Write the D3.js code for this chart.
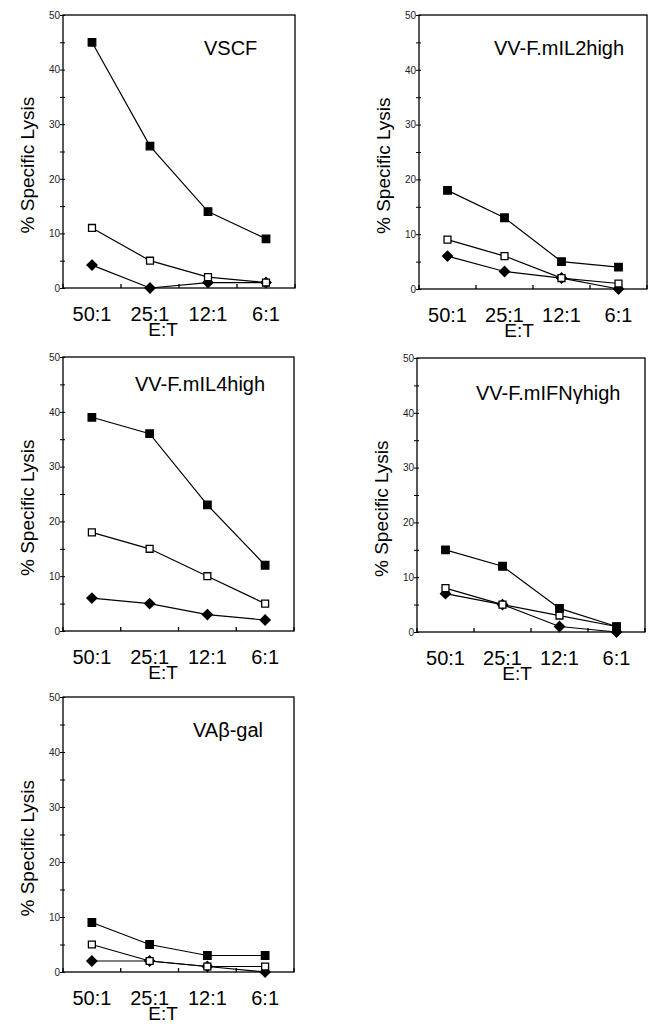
<!DOCTYPE html>
<html>
<head>
<meta charset="utf-8">
<script src="https://d3js.org/d3.v7.min.js"></script>
<style>
  body { margin: 0; background: #fff; }
  svg text { font-family: "Liberation Sans", Arial, sans-serif; fill: #000; }
</style>
</head>
<body>
<div id="graph-area"></div>
<script>

  // E:T ratios on the x axis
  const ratios = ["50:1", "25:1", "12:1", "6:1"];
  const yTicks = [0, 10, 20, 30, 40, 50];

  const titles = ["VSCF", "VV-F.mIL2high", "VV-F.mIL4high", "VV-F.mIFN\u03B3high", "VA\u03B2-gal"];

  // % specific lysis, one array per panel and marker
  const filledSq = [
    [45, 26, 14, 9],
    [18, 13, 5, 4],
    [39, 36, 23, 12],
    [15, 12, 4.3, 1],
    [9, 5, 3, 3]
  ];
  const openSq = [
    [11, 5, 2, 1],
    [9, 6, 2, 1],
    [18, 15, 10, 5],
    [8, 5, 3, 1],
    [5, 2, 1, 1]
  ];
  const diamond = [
    [4.2, 0, 1, 1],
    [6, 3.2, 2, 0],
    [6, 5, 3, 2],
    [7, 5, 1, 0],
    [2, 2, 1, 0]
  ];

  // panel frames: left, top, right, bottom (pixel layout) + title offset
  const frames = [
    {l: 63, t: 15, r: 295, b: 288, tx: 141, ty: 40},
    {l: 419, t: 15, r: 647, b: 289, tx: 75, ty: 40},
    {l: 63, t: 357, r: 294, b: 631, tx: 72, ty: 34},
    {l: 417, t: 358, r: 645, b: 632, tx: 59, ty: 42},
    {l: 63, t: 697, r: 294, b: 972, tx: 130, ty: 40}
  ];

  const w = 653, h = 1024;

  const svg = d3.select("#graph-area").append("svg")
    .attr("width", w)
    .attr("height", h);

  // rhombus marker, same width and height
  const rhombus = {
    draw(ctx, size) {
      const r = Math.sqrt(size / 2);
      ctx.moveTo(0, -r);
      ctx.lineTo(r, 0);
      ctx.lineTo(0, r);
      ctx.lineTo(-r, 0);
      ctx.closePath();
    }
  };

  function drawPanel(i) {
    const f = frames[i];
    const g = svg.append("g");

    const xScale = d3.scaleBand()
      .domain(ratios)
      .range([f.l, f.r]);

    const yScale = d3.scaleLinear()
      .domain([0, 50])
      .range([f.b, f.t]);

    // frame
    g.append("rect")
      .attr("x", f.l).attr("y", f.t)
      .attr("width", f.r - f.l).attr("height", f.b - f.t)
      .attr("fill", "none").attr("stroke", "#000").attr("stroke-width", 1.3);

    // y axis
    const yAxis = d3.axisLeft(yScale)
      .tickValues(d3.range(0, 51, 5))
      .tickSize(3)
      .tickFormat(d => yTicks.includes(d) ? d : "");
    const ya = g.append("g")
      .attr("transform", "translate(" + f.l + ",0)")
      .call(yAxis);
    ya.select(".domain").remove();
    ya.selectAll(".tick line").attr("x1", -3).attr("x2", 2).attr("stroke-width", 1);
    ya.selectAll(".tick text")
      .attr("x", -3)
      .style("font-size", "10px")
      .style("fill", "#222");

    // x axis: ticks at band edges, pointing inward
    const edges = ratios.map(r => xScale(r)).concat([f.r]);
    g.selectAll(".xtick")
      .data(edges)
      .enter().append("line")
      .attr("x1", d => d).attr("x2", d => d)
      .attr("y1", f.b).attr("y2", f.b - 4)
      .attr("stroke", "#000").attr("stroke-width", 1.3);

    g.selectAll(".xlab")
      .data(ratios)
      .enter().append("text")
      .attr("x", d => xScale(d) + xScale.bandwidth() / 2)
      .attr("y", f.b + 33)
      .attr("text-anchor", "middle")
      .style("font-size", "20px")
      .text(d => d);

    g.append("text")
      .attr("x", f.l + 100)
      .attr("y", Math.min(f.b + 48, h - 4))
      .attr("text-anchor", "middle")
      .style("font-size", "19px")
      .text("E:T");

    // y axis title
    g.append("text")
      .attr("transform", "translate(" + (f.l - 29) + "," + (f.t + (f.b - f.t) * 0.55) + ") rotate(-90)")
      .attr("text-anchor", "middle")
      .style("font-size", "19px")
      .text("% Specific Lysis");

    // panel title
    g.append("text")
      .attr("x", f.l + f.tx)
      .attr("y", f.t + f.ty)
      .style("font-size", "20px")
      .text(titles[i]);

    const cx = j => xScale(ratios[j]) + xScale.bandwidth() / 2;

    const line = d3.line()
      .x((d, j) => cx(j))
      .y(d => yScale(d));

    const series = [
      {vals: diamond[i], sym: rhombus, size: 50, fill: "#000"},
      {vals: openSq[i], sym: d3.symbolSquare, size: 48, fill: "#fff"},
      {vals: filledSq[i], sym: d3.symbolSquare, size: 56, fill: "#000"}
    ];

    series.forEach(s => {
      g.append("path")
        .datum(s.vals)
        .attr("fill", "none")
        .attr("stroke", "#000")
        .attr("stroke-width", 1.2)
        .attr("d", line);
    });

    series.forEach(s => {
      g.selectAll(null)
        .data(s.vals)
        .enter().append("path")
        .attr("transform", (d, j) => "translate(" + cx(j) + "," + yScale(d) + ")")
        .attr("d", d3.symbol().type(s.sym).size(s.size))
        .attr("fill", s.fill)
        .attr("stroke", "#000")
        .attr("stroke-width", 1.3);
    });
  }

  for (let i = 0; i < titles.length; i++) {
    drawPanel(i);
  }

</script>
</body>
</html>
